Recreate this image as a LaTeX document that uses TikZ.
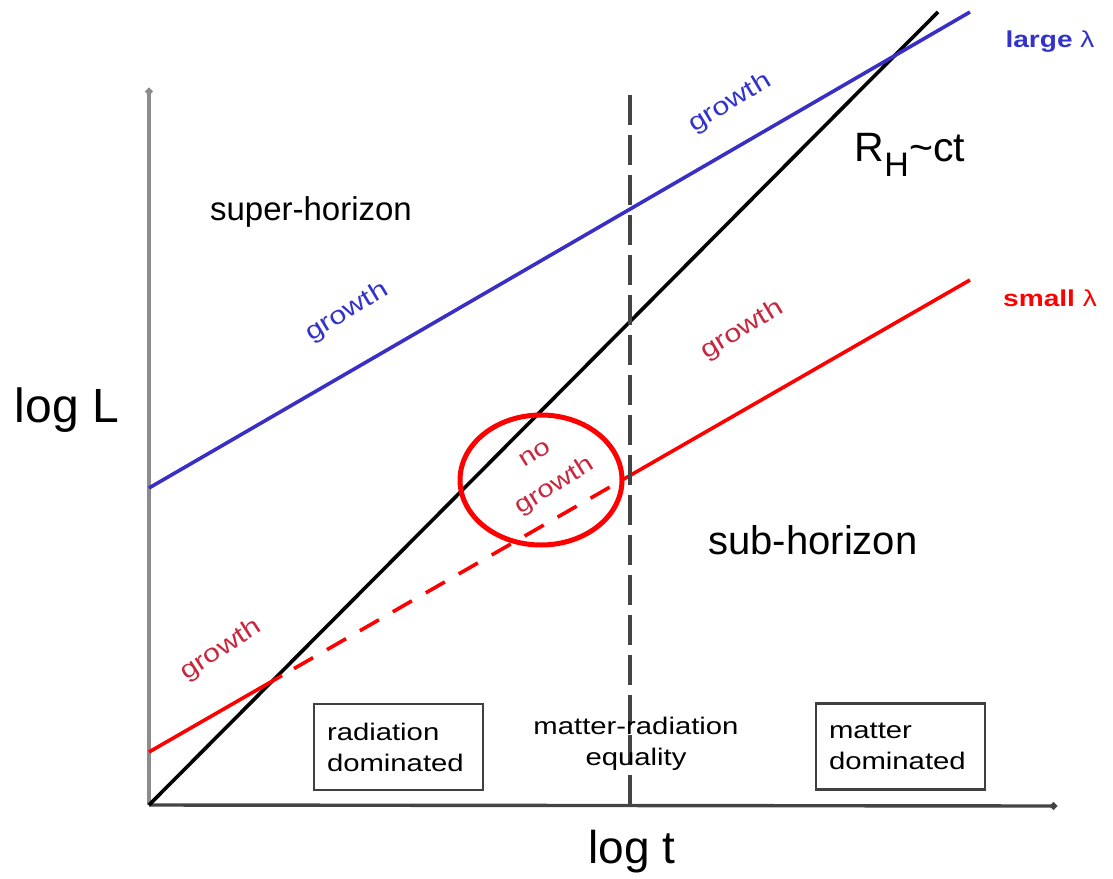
\documentclass[tikz,border=0pt]{standalone}
\usepackage{fontspec}
\setmainfont{Liberation Sans}
\newfontfamily\widefont[FakeStretch=1.22]{Liberation Sans}
\usetikzlibrary{arrows.meta}
\definecolor{lblue}{HTML}{3A2FC4}
\definecolor{tblue}{HTML}{3333CC}
\definecolor{lred}{HTML}{FF0000}
\definecolor{tred}{HTML}{C8283F}
\definecolor{yaxisgray}{HTML}{8C8C8C}
\definecolor{xaxisgray}{HTML}{444444}
\definecolor{boxgray}{HTML}{404040}
\begin{document}
\begin{tikzpicture}[x=1pt,y=-1pt,
  axisline/.style={line width=3.4pt,-{Circle[length=7pt]}},
  curve/.style={line width=3.6pt},
  bigtext/.style={font=\fontsize{#1}{#1}\selectfont, inner sep=0pt},
  smalltext/.style={font=\widefont\fontsize{24}{31}\selectfont, inner sep=0pt, align=center},
  growthlbl/.style={font=\widefont\fontsize{25}{30}\selectfont, inner sep=0pt, rotate=31},
  erabox/.style={draw=boxgray, line width=2.4pt, minimum width=169pt, minimum height=86pt,
    text width=143pt, inner xsep=13pt, inner ysep=0pt, align=left,
    font=\widefont\fontsize{24}{31}\selectfont}
]
\useasboundingbox (0,0) rectangle (1113,878);

% axes
\coordinate (O) at (149,805);
\coordinate (ytop) at (149,88);
\coordinate (xend) at (1057,806);
\draw[axisline, draw=yaxisgray] (O) -- (ytop);
\draw[axisline, draw=xaxisgray] (O) -- (xend);

% horizon line R_H ~ ct
\coordinate (hend) at (938,12);
\draw[curve, black] (O) -- (hend);

% large lambda (blue)
\coordinate (b0) at (149,488);
\coordinate (b1) at (970,12);
\draw[curve, lblue] (b0) -- (b1);

% small lambda (red)
\coordinate (r0) at (149,752);
\coordinate (r1) at (282,675.5);
\coordinate (r2) at (294,668.6);
\coordinate (r3) at (630,475.5);
\coordinate (r4) at (970,280);
\draw[curve, lred] (r0) -- (r1);
\draw[curve, lred, dash pattern=on 22pt off 16pt] (r2) -- (r3);
\draw[curve, lred] (r3) -- (r4);

% matter-radiation equality line
\coordinate (e0) at (630,95);
\coordinate (e1) at (630,805);
\draw[line width=3.2pt, color=xaxisgray, dash pattern=on 30pt off 10pt] (e0) -- (e1);

% red ellipse
\draw[lred, line width=5pt] (541,480) ellipse [x radius=81, y radius=65];

% texts
\node[bigtext=33] (sup) at (311,212) {super-horizon};
\node[bigtext=40] (sub) at (813,540) {sub-horizon};
\node[bigtext=48] (logL) at (67,410) {log L};
\node[bigtext=46] (logt) at (632,852) {log t};
\node[bigtext=41] (RH) at (910,155) {R\textsubscript{\fontsize{34}{34}\selectfont H}\textasciitilde ct};

\node[font=\widefont\fontsize{23}{23}\selectfont, text=tblue, inner sep=0pt] (large) at (1050,42) {\bfseries large \mdseries λ};
\node[font=\widefont\fontsize{23}{23}\selectfont, text=lred, inner sep=0pt] (small) at (1050,298) {\bfseries small \mdseries λ};

\node[growthlbl, text=tblue] (g1) at (347,312) {growth};
\node[growthlbl, text=tblue] (g2) at (730,103) {growth};
\node[growthlbl, text=tred] (g3) at (742,330) {growth};
\node[growthlbl, text=tred, rotate=2] (g4) at (221,650) {growth};
\node[smalltext, text=tred, rotate=32, font=\widefont\fontsize{24}{38}\selectfont] (ng) at (546,472) {no\\growth};

% era boxes
\node[erabox] (rad) at (398.5,747) {radiation\\dominated};
\node[erabox] (mat) at (900.5,746.5) {matter\\dominated};
\node[smalltext] (eq) at (636,744) {matter-radiation\\equality};
\end{tikzpicture}
\end{document}
